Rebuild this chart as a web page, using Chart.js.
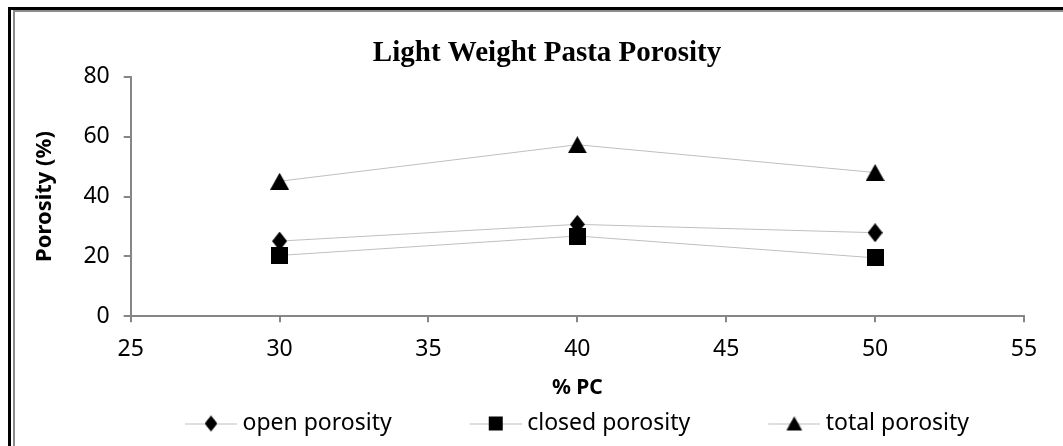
<!DOCTYPE html>
<html lang="en">
  <head>
    <meta charset="UTF-8" />
    <title>Light Weight Pasta Porosity</title>
    <script src="https://cdn.jsdelivr.net/npm/chart.js"></script>
    <style>
      html,
      body {
        margin: 0;
        padding: 0;
        background: #fff;
      }

      .wrap {
        position: relative;
        width: 1063px;
        height: 446px;
        overflow: hidden;
      }

      .frame-outer,
      .frame-inner {
        position: absolute;
        right: -10px;
        bottom: -10px;
        pointer-events: none;
      }

      .frame-outer {
        left: 8px;
        top: 7px;
        border-left: 3px solid #000;
        border-top: 3px solid #000;
      }

      .frame-inner {
        left: 13px;
        top: 10px;
        border-left: 2px solid #8c8c8c;
        border-top: 2px solid #8c8c8c;
      }

      canvas {
        position: absolute;
        left: 0;
        top: 0;
      }
    </style>
  </head>
  <body>
    <div class="wrap">
      <canvas id="porosityChart" width="1063" height="446"></canvas>
      <div class="frame-outer"></div>
      <div class="frame-inner"></div>
    </div>

    <script>
      // data
      const pcLevels = [30, 40, 50];
      const openPorosity = [25.1, 30.7, 27.9];
      const closedPorosity = [20.3, 26.8, 19.5];
      const totalPorosity = [45.1, 57.3, 48.0];
      const seriesNames = ["open porosity", "closed porosity", "total porosity"];

      // black markers like the spreadsheet ones
      function makeMarker(shape, w, h) {
        const c = document.createElement("canvas");
        c.width = w;
        c.height = h;
        const ctx = c.getContext("2d");
        ctx.fillStyle = "#000";
        ctx.beginPath();
        if (shape === "diamond") {
          ctx.moveTo(w / 2, 0);
          ctx.lineTo(w, h / 2);
          ctx.lineTo(w / 2, h);
          ctx.lineTo(0, h / 2);
        } else if (shape === "triangle") {
          ctx.moveTo(w / 2, 0);
          ctx.lineTo(w, h);
          ctx.lineTo(0, h);
        } else {
          ctx.rect(0, 0, w, h);
        }
        ctx.closePath();
        ctx.fill();
        return c;
      }

      // legend icon: blank part + short grey line with the marker on it,
      // the line sits at the right edge of the canvas
      const legendBox = 114;
      const legendOverhang = 6;
      const legendLine = 52;
      function makeLegendIcon(marker) {
        const c = document.createElement("canvas");
        c.width = legendBox + 2 * legendOverhang;
        c.height = 22;
        const ctx = c.getContext("2d");
        const x0 = c.width - legendLine;
        ctx.strokeStyle = "#bfbfbf";
        ctx.lineWidth = 1;
        ctx.beginPath();
        ctx.moveTo(x0, 11.5);
        ctx.lineTo(c.width, 11.5);
        ctx.stroke();
        const s = 0.85;
        const mw = marker.width * s;
        const mh = marker.height * s;
        ctx.drawImage(marker, x0 + legendLine / 2 - mw / 2, 11 - mh / 2, mw, mh);
        return c;
      }

      const markers = [
        makeMarker("diamond", 15, 19),
        makeMarker("square", 17, 17),
        makeMarker("triangle", 19, 17),
      ];
      const legendIcons = markers.map(makeLegendIcon);

      const toPoints = (ys) => pcLevels.map((x, i) => ({ x: x, y: ys[i] }));

      // title and legend sit a bit right of the canvas centre in the original
      const nudge = {
        id: "nudge",
        afterLayout(chart) {
          chart.titleBlock.left += 25;
          chart.titleBlock.right += 25;
          chart.legend.left += 21;
          chart.legend.right += 21;
        },
      };

      const axisGrey = "#868686";
      const tickFont = { family: "'Noto Sans', sans-serif", size: 23 };

      const ctx = document.getElementById("porosityChart").getContext("2d");
      new Chart(ctx, {
        type: "scatter",
        data: {
          datasets: [openPorosity, closedPorosity, totalPorosity].map((ys, i) => ({
            label: seriesNames[i],
            data: toPoints(ys),
            showLine: true,
            borderColor: "#bfbfbf",
            borderWidth: 1,
            pointStyle: markers[i],
            backgroundColor: "#000",
          })),
        },
        options: {
          responsive: false,
          animation: false,
          layout: { padding: { left: 20, right: 39, top: 0, bottom: 1 } },
          plugins: {
            tooltip: { enabled: false },
            title: {
              display: true,
              text: "Light Weight Pasta Porosity",
              color: "#000",
              font: { family: "'Liberation Serif', serif", size: 29, weight: "bold" },
              padding: { top: 36, bottom: 6 },
            },
            legend: {
              position: "bottom",
              labels: {
                usePointStyle: true,
                pointStyleWidth: legendBox,
                padding: 10,
                color: "#000",
                font: tickFont,
                generateLabels: (chart) =>
                  chart.data.datasets.map((ds, i) => ({
                    text: ds.label,
                    pointStyle: legendIcons[i],
                    fillStyle: "#000",
                    strokeStyle: "#000",
                    lineWidth: 0,
                    hidden: false,
                    datasetIndex: i,
                    fontColor: "#000",
                  })),
              },
            },
          },
          scales: {
            x: {
              type: "linear",
              min: 25,
              max: 55,
              ticks: { stepSize: 5, color: "#000", font: tickFont, padding: 13 },
              grid: { drawOnChartArea: false, drawTicks: true, tickLength: 6, color: axisGrey, lineWidth: 2 },
              border: { color: axisGrey, width: 2 },
              title: {
                display: true,
                text: "% PC",
                color: "#000",
                font: { family: "'Noto Sans', sans-serif", size: 21, weight: "bold" },
                padding: { top: 0, bottom: 1 },
              },
            },
            y: {
              min: 0,
              max: 80,
              ticks: { stepSize: 20, color: "#000", font: tickFont, padding: 14 },
              grid: { drawOnChartArea: false, drawTicks: true, tickLength: 7, color: axisGrey, lineWidth: 2 },
              border: { color: axisGrey, width: 2 },
              title: {
                display: true,
                text: "Porosity (%)",
                color: "#000",
                font: { family: "'Noto Sans', sans-serif", size: 22, weight: "bold" },
                padding: { top: 12, bottom: 11 },
              },
            },
          },
        },
        plugins: [nudge],
      });
    </script>
  </body>
</html>
